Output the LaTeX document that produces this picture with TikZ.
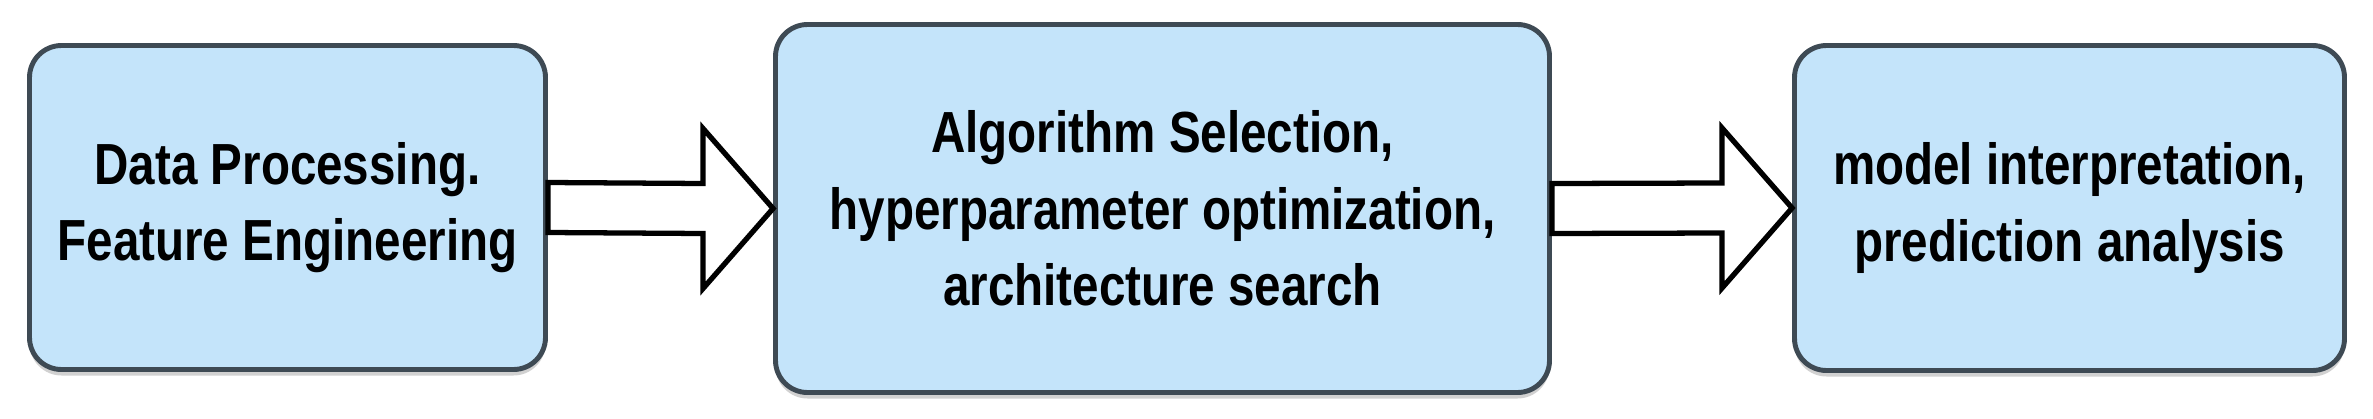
\documentclass[tikz,border=0pt]{standalone}
\usepackage{fontspec}
\setmainfont[FakeStretch=0.82]{Liberation Sans}
\usetikzlibrary{calc,shadows}
\definecolor{boxblue}{HTML}{C4E4FA}
\definecolor{boxline}{HTML}{3E4A54}

\begin{document}
\begin{tikzpicture}[
	box/.style={draw=boxline, line width=1.4pt, fill=boxblue, rounded corners=0.32cm, align=center,
		font=\bfseries\fontsize{16.5}{21.8}\selectfont,
		drop shadow={shadow xshift=0pt, shadow yshift=-0.6mm, fill=black!30, opacity=0.6}},
	fat/.style={draw=black, line width=1.5pt, fill=white, line join=miter}]
	\useasboundingbox (0,0) rectangle (23.73,4.18);
	\node[box, minimum width=5.16cm, minimum height=3.24cm] (prep) at (2.875,2.105) {Data Processing.\\Feature Engineering};
	\node[box, minimum width=7.74cm, minimum height=3.68cm] (search) at (11.625,2.095) {Algorithm Selection,\\hyperparameter optimization,\\architecture search};
	\node[box, minimum width=5.50cm, minimum height=3.25cm] (interp) at (20.695,2.10) {model interpretation,\\prediction analysis};
	\foreach \a/\b in {prep/search, search/interp}
		\draw[fat] ($(\a.east)+(0,0.25)$) -- ($(\b.west)+(-0.70,0.25)$) -- ($(\b.west)+(-0.70,0.80)$) -- (\b.west)
			-- ($(\b.west)+(-0.70,-0.80)$) -- ($(\b.west)+(-0.70,-0.25)$) -- ($(\a.east)+(0,-0.25)$) -- cycle;
\end{tikzpicture}
\end{document}
